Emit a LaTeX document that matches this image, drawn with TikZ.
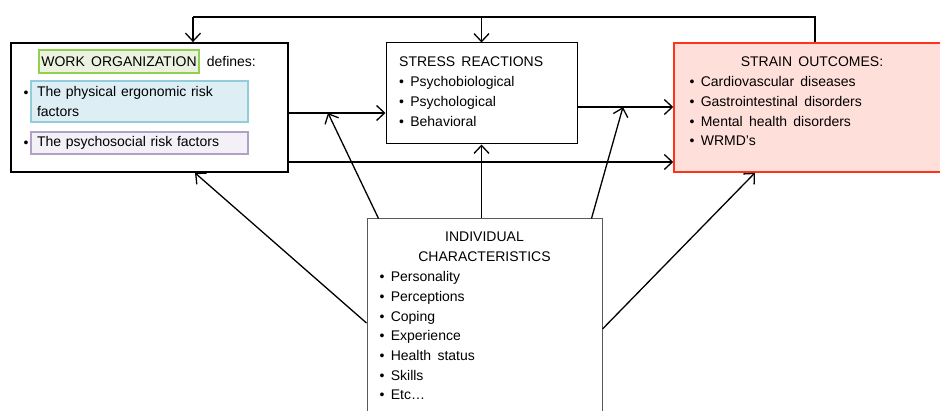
\documentclass[tikz,border=0pt]{standalone}
\usepackage{fontspec}
\setmainfont{Liberation Sans}[WordSpace=1.6]
\usetikzlibrary{arrows.meta, positioning}
\definecolor{woGreen}{RGB}{146,208,80}
\definecolor{woGreenFill}{RGB}{235,243,224}
\definecolor{phBlue}{RGB}{146,205,220}
\definecolor{phBlueFill}{RGB}{222,238,245}
\definecolor{psPurple}{RGB}{178,161,199}
\definecolor{psPurpleFill}{RGB}{243,240,248}
\definecolor{soRed}{RGB}{255,51,25}
\definecolor{soFill}{RGB}{255,223,218}

\begin{document}
\begin{tikzpicture}[x=1pt, y=-1pt,
		font=\fontsize{14}{19.7}\selectfont,
		arr/.style={-{Straight Barb[length=8pt,width=15pt]}, line width=1.3pt},
		ln/.style={line width=1.3pt},
		txt/.style={inner sep=0pt, anchor=base west},
		mid/.style={inner sep=0pt, anchor=base},
		hl/.style={inner sep=0pt, line width=1.2pt, text width=205pt, align=left, minimum width=217pt}]
		\clip (0,0) rectangle (940,411);

		\node[draw, line width=1.8pt, minimum width=277pt, minimum height=129pt] (org) at (149.5,107.5) {};
		\node[draw, line width=1pt, minimum width=191pt, minimum height=101pt] (stress) at (481.5,93.5) {};
		\node[draw=soRed, fill=soFill, line width=1.5pt, minimum width=272pt, minimum height=129pt] (strain) at (810,107.5) {};
		\node[draw=black!65, line width=1pt, minimum width=235pt, minimum height=201pt] (indiv) at (484.5,319.5) {};

		\node[draw=woGreen, fill=woGreenFill, line width=1.2pt, inner sep=1pt, minimum width=160pt, minimum height=23pt] (wo) at (119,61.5) {WORK ORGANIZATION};
		\node[txt, base right=7pt of wo] (def) {defines:};
		\node[hl, draw=phBlue, fill=phBlueFill, minimum height=41pt] (phys) at (139.5,101.5) {The physical ergonomic risk\\factors};
		\node[hl, draw=psPurple, fill=psPurpleFill, minimum height=22pt] (psy) at (139.5,143) {The psychosocial risk factors};
		\node[mid] (b-phys) at (26,98) {\textbullet};
		\node[mid] (b-psy) at (26,148) {\textbullet};

		\node[txt] (sr-0) at (399,67) {STRESS REACTIONS};
		\foreach \t [count=\i] in {Psychobiological, Psychological, Behavioral} {
				\node[txt] (sr-\i) at (399, 67+\i*19.7) {\textbullet\ \t};
			}

		\node[mid] (so-0) at (812,67) {STRAIN OUTCOMES:};
		\foreach \t [count=\i] in {Cardiovascular diseases, Gastrointestinal disorders, Mental health disorders, WRMD’s} {
				\node[txt] (so-\i) at (689.5, 67+\i*19.7) {\textbullet\ \t};
			}

		\node[mid] (ic-a) at (484.5,242) {INDIVIDUAL};
		\node[mid] (ic-b) at (484.5,262) {CHARACTERISTICS};
		\foreach \t [count=\i] in {Personality, Perceptions, Coping, Experience, Health status, Skills, Etc…} {
				\node[txt] (ic-\i) at (379.5, 262+\i*19.7) {\textbullet\ \t};
			}

		\coordinate (topL) at (193,17);
		\coordinate (topR) at (815,17);
		\coordinate (j1) at (328,113);
		\coordinate (j2) at (623,107);

		\draw[ln] (strain.north -| topR) -- (topR) -- (topL);
		\draw[arr] (topL) -- (org.north -| topL);
		\draw[arr] (topL -| stress.north) -- (stress.north);
		\draw[arr] (org.east |- j1) -- (stress.west |- j1);
		\draw[arr] (stress.east |- j2) -- (strain.west |- j2);
		\draw[arr] (org.east |- 0,162) -- (strain.west |- 0,162);
		\draw[arr] ([xshift=12pt]indiv.north west) -- (j1);
		\draw[arr] (indiv.north -| stress.south) -- (stress.south);
		\draw[arr] ([xshift=-11pt]indiv.north east) -- (j2);
		\draw[arr] ([yshift=-3.5pt]indiv.west) -- ([xshift=45.5pt]org.south);
		\draw[arr] ([yshift=-9.5pt]indiv.east) -- ([xshift=-55pt]strain.south);
	\end{tikzpicture}
\end{document}
